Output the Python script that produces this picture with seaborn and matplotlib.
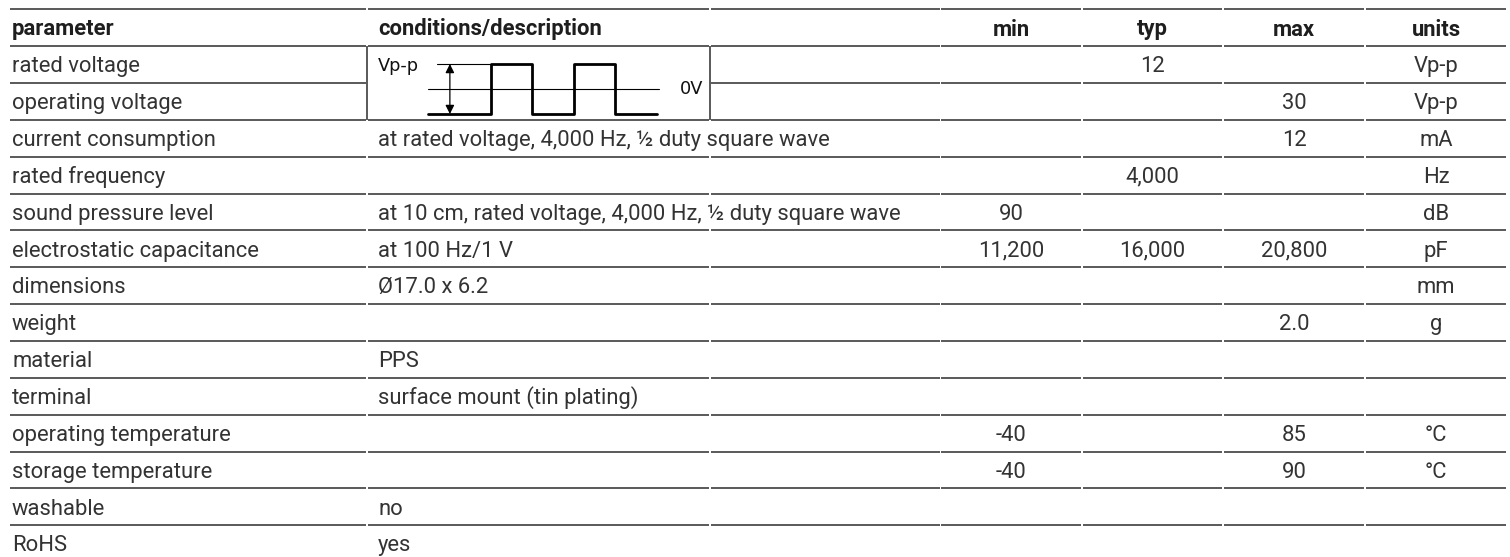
import numpy as np
import matplotlib
matplotlib.use("Agg")
import matplotlib.pyplot as plt
import seaborn as sns

# Datos de la tabla (especificaciones del zumbador)
headers = ["parameter", "conditions/description", "min", "typ", "max", "units"]
params = ["rated voltage", "operating voltage", "current consumption", "rated frequency",
          "sound pressure level", "electrostatic capacitance", "dimensions", "weight",
          "material", "terminal", "operating temperature", "storage temperature",
          "washable", "RoHS"]
conditions = ["", "", "at rated voltage, 4,000 Hz, \u00bd duty square wave", "",
              "at 10 cm, rated voltage, 4,000 Hz, \u00bd duty square wave", "at 100 Hz/1 V",
              "\u00d817.0 x 6.2", "", "PPS", "surface mount (tin plating)", "", "",
              "no", "yes"]
mins = ["", "", "", "", "90", "11,200", "", "", "", "", "-40", "-40", "", ""]
typs = ["12", "", "", "4,000", "", "16,000", "", "", "", "", "", "", "", ""]
maxs = ["", "30", "12", "", "", "20,800", "", "2.0", "", "", "85", "90", "", ""]
units = ["Vp-p", "Vp-p", "mA", "Hz", "dB", "pF", "mm", "g", "", "", "\u00b0C", "\u00b0C", "", ""]

# Forma de onda cuadrada (semiperiodos, nivel)
wave_t = [0, 1.5, 1.5, 2.5, 2.5, 3.5, 3.5, 4.5, 4.5, 5.5]
wave_level = [-1, -1, 1, 1, -1, -1, 1, 1, -1, -1]

sns.set_theme(style="white")
plt.rcParams["font.family"] = ["Roboto", "DejaVu Sans"]

W, H = 1510, 557
fig = plt.figure(figsize=(W / 100, H / 100), dpi=100)
ax = fig.add_axes([0, 0, 1, 1])
ax.set_xlim(0, W)
ax.set_ylim(H, 0)
ax.axis("off")

# Geometria de la tabla (pixeles)
top = 9.3
row_h = 36.85
bounds = [9, 367, 710, 940.5, 1082, 1223, 1365, 1507]
num_centers = [1011, 1152.5, 1294, 1436]
line_color = "#454545"
txt_color = "#333333"
fs = 15.8

# Lineas horizontales por celda (con pequenos cortes entre columnas)
n_lines = len(params) + 1
for k in range(n_lines):
    y = top + k * row_h
    for j in range(len(bounds) - 1):
        if k == 2 and j == 1:
            continue  # dentro del recuadro de la forma de onda
        ax.plot([bounds[j] + 0.6, bounds[j + 1] - 0.6], [y, y], color=line_color, lw=1.25,
                solid_capstyle="butt")

# Recuadro de la forma de onda (filas 1-2)
box_top = top + row_h
box_bot = top + 3 * row_h
for xb in (bounds[1], bounds[2]):
    ax.plot([xb, xb], [box_top, box_bot], color=line_color, lw=1.25, solid_capstyle="butt")

# Encabezados
base_off = 26.2
yh = top + base_off
ax.text(12, yh, headers[0], fontsize=fs, fontweight="bold", color="#1e1e1e", va="baseline")
ax.text(378, yh, headers[1], fontsize=fs, fontweight="bold", color="#1e1e1e", va="baseline")
for xc, lab in zip(num_centers, headers[2:]):
    ax.text(xc, yh, lab, fontsize=fs, fontweight="bold", color="#1e1e1e", va="baseline",
            ha="center")

# Filas
for i in range(len(params)):
    y = top + (i + 1) * row_h + base_off
    ax.text(12, y, params[i], fontsize=fs, color=txt_color, va="baseline")
    if conditions[i]:
        ax.text(378, y, conditions[i], fontsize=fs, color=txt_color, va="baseline")
    for xc, col in zip(num_centers, [mins, typs, maxs, units]):
        if col[i]:
            ax.text(xc, y, col[i], fontsize=fs, color=txt_color, va="baseline", ha="center")

# Forma de onda en un eje insertado
x0, x1 = bounds[1], bounds[2]
axw = fig.add_axes([x0 / W, 1 - box_bot / H, (x1 - x0) / W, (box_bot - box_top) / H])
axw.set_xlim((x0 - 428.3) / 41.5, (x1 - 428.3) / 41.5)
axw.set_ylim((89 - box_bot) / 25, (89 - box_top) / 25)
axw.axis("off")
axw.patch.set_alpha(0)

sns.lineplot(x=wave_t, y=wave_level, sort=False, estimator=None, color="black", lw=2.0,
             ax=axw)
axw.plot([0, 5.55], [0, 0], color="black", lw=0.8)
axw.plot([0.2, 1.5], [1, 1], color="black", lw=0.8)
axw.annotate("", xy=(0.52, 1), xytext=(0.52, -1),
             arrowprops=dict(arrowstyle="<|-|>", color="black", lw=0.9,
                             mutation_scale=13, shrinkA=0, shrinkB=0))

ax.text(378, 70.7, "Vp-p", fontsize=12.8, color="#111111", va="baseline",
        family=["DejaVu Sans"])
ax.text(680, 94, "0V", fontsize=12.8, color="#111111", va="baseline",
        family=["DejaVu Sans"])

fig.savefig("out.png", dpi=100)
